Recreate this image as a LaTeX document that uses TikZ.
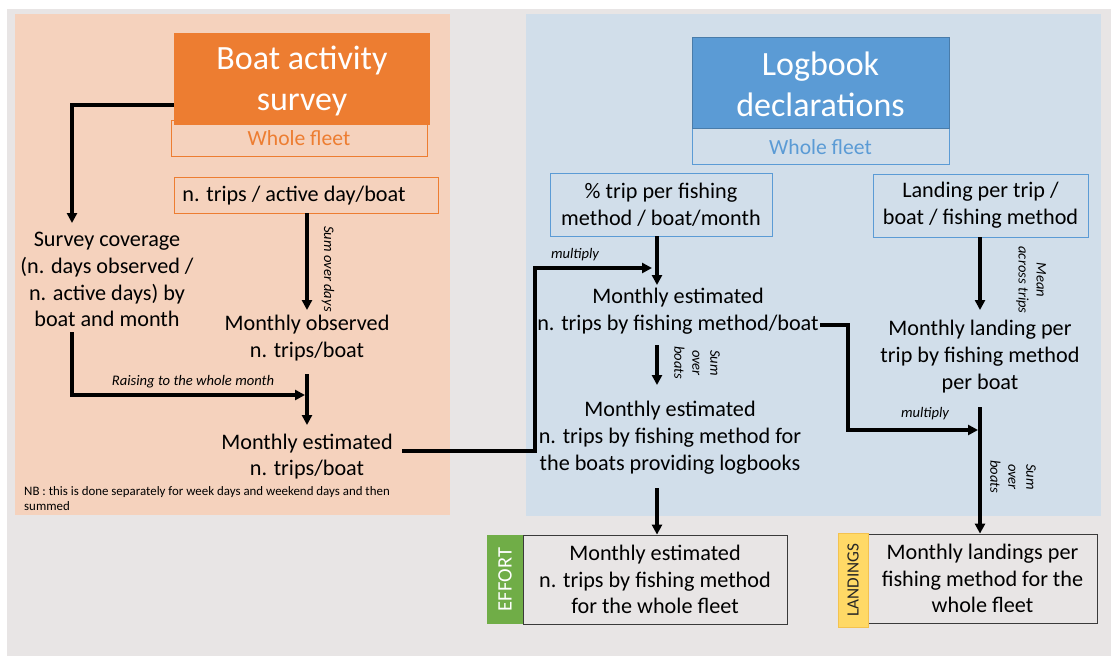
\documentclass[tikz,border=0pt]{standalone}
\usepackage{fontspec}
\setmainfont{Carlito}
\usetikzlibrary{arrows.meta}
\definecolor{bgGrey}{HTML}{E8E5E5}
\definecolor{orBg}{HTML}{F5D2BD}
\definecolor{orMain}{HTML}{ED7D31}
\definecolor{blBg}{HTML}{D1DEEA}
\definecolor{blMain}{HTML}{5B9BD5}
\definecolor{grTab}{HTML}{70AD47}
\definecolor{ylTab}{HTML}{FFD966}
\definecolor{ylEdge}{HTML}{F4C24F}
\definecolor{boxEdge}{HTML}{3A3A3A}
\begin{document}
\begin{tikzpicture}[x=1pt,y=-1pt,
  txt/.style={align=center, font=\fontsize{22.2}{26.8}\selectfont, inner sep=0pt},
  ttl/.style={align=center, text=white, font=\fontsize{34}{41}\selectfont, inner sep=0pt},
  lbl/.style={align=center, font=\fontsize{14.6}{18}\selectfont\itshape, inner sep=0pt},
  arr/.style={line width=3.1pt, -{Triangle[length=10pt,width=10pt]}},
  obox/.style={draw=orMain, line width=0.8pt, txt},
  bbox/.style={draw=blMain, line width=0.8pt, txt},
  gbox/.style={draw=boxEdge, fill=bgGrey, line width=0.8pt, txt},
]
\useasboundingbox (0,0) rectangle (1111,656);
\fill[white] (0,0) rectangle (1111,656);
\fill[bgGrey] (7,9) rectangle (1111,656);
\fill[orBg] (15,14) rectangle (450,515);
\fill[blBg] (526,14) rectangle (1101,516);

% ---------- left: boat activity survey ----------
\node[obox, text=orMain, minimum width=256, minimum height=36] (bwf) at (299,138) {};
\node[txt, text=orMain, font=\fontsize{21.6}{26}\selectfont] (bwft) at (299,138) {Whole fleet};
\node[fill=orMain, minimum width=256, minimum height=92, inner sep=0pt] (bas) at (302,79) {};
\node[ttl] (bast) at (302,81) {Boat activity\\survey};
\node[draw=orMain, line width=0.8pt, minimum width=264, minimum height=36, inner sep=0pt] (trips) at (306,195) {};
\node[txt] (tripst) at (294,196) {n. trips / active day/boat};
\node[txt] (cov) at (107,279.5) {Survey coverage\\(n. days observed /\\n. active days) by\\boat and month};
\node[txt] (obs) at (307,338) {Monthly observed\\n. trips/boat};
\node[txt] (est) at (307,456.5) {Monthly estimated\\n. trips/boat};
\node[align=left, anchor=north west, inner sep=0pt, font=\fontsize{12.9}{15}\selectfont] (nb) at (24,486)
  {NB : this is done separately for week days and weekend days and then\\summed};

\coordinate (j1) at (305,395);
\draw[arr] ([yshift=-26pt]bas.west) -| ([shift={(-35,-56.5)}]cov.center);
\draw[arr] ([xshift=1pt]trips.south) -- ([shift={(0,-28)}]obs.center);
\node[lbl, rotate=-90] (sod) at (328,269) {Sum over days};
\draw[arr] ([shift={(0,36)}]obs.center) -- ([shift={(0,-31.5)}]est.center);
\draw[arr] ([shift={(-35,52.5)}]cov.center) |- (j1);
\node[lbl] (rais) at (193,382) {Raising to the whole month};

% ---------- right: logbook declarations ----------
\node[bbox, minimum width=257, minimum height=36] (lbw) at (820.5,146) {};
\node[txt, text=blMain, font=\fontsize{21.6}{26}\selectfont] (lbwt) at (820.5,147) {Whole fleet};
\node[fill=blMain, draw=blMain!80!black, line width=0.5pt, minimum width=257, minimum height=91, inner sep=0pt] (lbt) at (820.5,82.5) {};
\node[ttl] (lbtt) at (820.5,84) {Logbook\\declarations};
\node[bbox, minimum width=222, minimum height=63] (pct) at (661,204.5) {\% trip per fishing\\method / boat/month};
\node[bbox, minimum width=215, minimum height=63] (lnd) at (980.5,205.5) {Landing per trip /\\boat / fishing method};
\node[txt] (mef) at (678,311.5) {Monthly estimated\\n. trips by fishing method/boat};
\node[txt] (mel) at (670,437.5) {Monthly estimated\\n. trips by fishing method for\\the boats providing logbooks};
\node[txt] (mlp) at (980,356.5) {Monthly landing per\\trip by fishing method\\per boat};

\node[gbox, minimum width=264, minimum height=89] (eff) at (655,579.5) {Monthly estimated\\n. trips by fishing method\\for the whole fleet};
\node[fill=grTab, minimum width=36, minimum height=89, inner sep=0pt] (efft) at (505,579.5) {};
\node[rotate=90, text=white, font=\fontsize{20.5}{22}\selectfont, inner sep=0pt] (efftx) at (efft.center) {EFFORT};
\node[gbox, minimum width=229, minimum height=89] (land) at (982.5,578.5) {Monthly landings per\\fishing method for the\\whole fleet};
\node[fill=ylTab, draw=ylEdge, line width=0.6pt, minimum width=30, minimum height=94, inner sep=0pt] (landt) at (853,580) {};
\node[rotate=90, text=black!85, font=\fontsize{17.2}{19}\selectfont, inner sep=0pt] (landtx) at (landt.center) {LANDINGS};

\coordinate (m1) at (652,268);
\coordinate (j2) at (978,430);
\draw[arr] ([xshift=-4pt]pct.south) -- ([shift={(-21,-26.5)}]mef.center);
\draw[arr] ([shift={(95,-5.5)}]est.center) -- (535,451) |- (m1);
\node[lbl] (mul1) at (575,255) {multiply};
\draw[arr] ([shift={(-21,33.5)}]mef.center) -- ([shift={(-13,-52.5)}]mel.center);
\node[lbl, rotate=-90] (sob1) at (697,363) {Sum\\over\\boats};
\draw[arr] ([shift={(-13,50.5)}]mel.center) -- ([xshift=2pt]eff.north);

\draw[arr] ([xshift=-0.5pt]lnd.south) -- ([shift={(0,-46.5)}]mlp.center);
\node[lbl, rotate=-90] (mat) at (1031,280) {Mean\\across trips};
\draw[arr] ([shift={(142,13.5)}]mef.center) -- (848,325) |- (j2);
\node[lbl] (mul2) at (925,414) {multiply};
\draw[arr] ([shift={(0,50.5)}]mlp.center) -- ([xshift=-2.5pt]land.north);
\node[lbl, rotate=-90] (sob2) at (1013,477) {Sum\\over\\boats};
\end{tikzpicture}
\end{document}
